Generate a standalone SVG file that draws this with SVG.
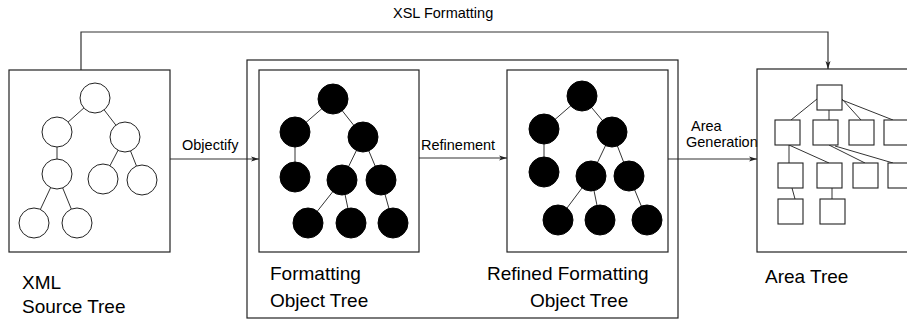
<svg xmlns="http://www.w3.org/2000/svg" width="907" height="323" viewBox="0 0 907 323">
<style>
.box{fill:none;stroke:#222;stroke-width:1.2}
.conn{fill:none;stroke:#333;stroke-width:1.2}
.edge{stroke:#333;stroke-width:1}
.oc{fill:#fff;stroke:#222;stroke-width:1}
.fc{fill:#000;stroke:#000;stroke-width:1}
.sq{fill:#fff;stroke:#222;stroke-width:1.1}
.big{font-family:"Liberation Sans",Arial,sans-serif;font-size:19px;fill:#000}
.small{font-family:"Liberation Sans",Arial,sans-serif;font-size:14.5px;fill:#000}
</style>
<defs>
<marker id="arr" viewBox="0 0 8 6" refX="8" refY="3" markerWidth="8" markerHeight="6" markerUnits="userSpaceOnUse" orient="auto">
<path d="M0,0.5 L8,3 L0,5.5 L2,3 Z" fill="#222"/>
</marker>
</defs>
<rect width="907" height="323" fill="#fff"/>

<g id="connectors">
<polyline class="conn" points="81,70 81,32 828,32 828,69" marker-end="url(#arr)"/>
<line class="conn" x1="170" y1="159" x2="259" y2="159" marker-end="url(#arr)"/>
<line class="conn" x1="419" y1="158" x2="507" y2="158" marker-end="url(#arr)"/>
<line class="conn" x1="668" y1="159" x2="757" y2="159" marker-end="url(#arr)"/>
<text class="small" x="393" y="18">XSL Formatting</text>
<text class="small" x="182" y="150">Objectify</text>
<text class="small" x="421" y="150">Refinement</text>
<text class="small" x="691" y="131">Area</text>
<text class="small" x="686" y="147">Generation</text>
</g>

<g id="source-tree">
<rect class="box" x="9" y="70" width="161" height="182"/>
<g>
<line class="edge" x1="95" y1="98" x2="57" y2="132"/>
<line class="edge" x1="95" y1="98" x2="125" y2="137"/>
<line class="edge" x1="57" y1="132" x2="57" y2="174"/>
<line class="edge" x1="125" y1="137" x2="103" y2="179"/>
<line class="edge" x1="125" y1="137" x2="142" y2="180"/>
<line class="edge" x1="57" y1="174" x2="34" y2="223"/>
<line class="edge" x1="57" y1="174" x2="77" y2="223"/>
</g>
<circle class="oc" cx="95" cy="98" r="15"/>
<circle class="oc" cx="57" cy="132" r="15"/>
<circle class="oc" cx="125" cy="137" r="15"/>
<circle class="oc" cx="57" cy="174" r="15"/>
<circle class="oc" cx="103" cy="179" r="15"/>
<circle class="oc" cx="142" cy="180" r="15"/>
<circle class="oc" cx="34" cy="223" r="15"/>
<circle class="oc" cx="77" cy="223" r="15"/>
<text class="big" x="22" y="289">XML</text>
<text class="big" x="22" y="313">Source Tree</text>
</g>

<g id="fo-group">
<rect class="box" x="247" y="60" width="431" height="258"/>
</g>

<g id="fo-tree">
<rect class="box" x="259" y="70" width="160" height="182"/>
<line class="edge" x1="333" y1="99" x2="295" y2="132"/>
<line class="edge" x1="333" y1="99" x2="363" y2="137"/>
<line class="edge" x1="295" y1="132" x2="295" y2="177"/>
<line class="edge" x1="363" y1="137" x2="342" y2="180"/>
<line class="edge" x1="363" y1="137" x2="381" y2="180"/>
<line class="edge" x1="342" y1="180" x2="308" y2="223"/>
<line class="edge" x1="342" y1="180" x2="351" y2="223"/>
<line class="edge" x1="381" y1="180" x2="393" y2="223"/>
<circle class="fc" cx="333" cy="99" r="15"/>
<circle class="fc" cx="295" cy="132" r="15"/>
<circle class="fc" cx="363" cy="137" r="15"/>
<circle class="fc" cx="295" cy="177" r="15"/>
<circle class="fc" cx="342" cy="180" r="15"/>
<circle class="fc" cx="381" cy="180" r="15"/>
<circle class="fc" cx="308" cy="223" r="15"/>
<circle class="fc" cx="351" cy="223" r="15"/>
<circle class="fc" cx="393" cy="223" r="15"/>
<text class="big" x="270" y="280">Formatting</text>
<text class="big" x="270" y="307">Object Tree</text>
</g>

<g id="refined-tree">
<rect class="box" x="507" y="70" width="161" height="182"/>
<line class="edge" x1="582" y1="96" x2="544" y2="129"/>
<line class="edge" x1="582" y1="96" x2="612" y2="132"/>
<line class="edge" x1="544" y1="129" x2="544" y2="172"/>
<line class="edge" x1="612" y1="132" x2="591" y2="176"/>
<line class="edge" x1="612" y1="132" x2="629" y2="176"/>
<line class="edge" x1="591" y1="176" x2="558" y2="220"/>
<line class="edge" x1="591" y1="176" x2="600" y2="220"/>
<line class="edge" x1="629" y1="176" x2="647" y2="220"/>
<circle class="fc" cx="582" cy="96" r="15"/>
<circle class="fc" cx="544" cy="129" r="15"/>
<circle class="fc" cx="612" cy="132" r="15"/>
<circle class="fc" cx="544" cy="172" r="15"/>
<circle class="fc" cx="591" cy="176" r="15"/>
<circle class="fc" cx="629" cy="176" r="15"/>
<circle class="fc" cx="558" cy="220" r="15"/>
<circle class="fc" cx="600" cy="220" r="15"/>
<circle class="fc" cx="647" cy="220" r="15"/>
<text class="big" x="487" y="280">Refined Formatting</text>
<text class="big" x="530" y="307">Object Tree</text>
</g>

<g id="area-tree">
<rect class="box" x="757" y="69" width="160" height="183"/>
<line class="edge" x1="817" y1="99" x2="791" y2="120"/>
<line class="edge" x1="829" y1="110" x2="829" y2="120"/>
<line class="edge" x1="842" y1="99" x2="861" y2="120"/>
<line class="edge" x1="842" y1="100" x2="893" y2="120"/>
<line class="edge" x1="789" y1="145" x2="789" y2="163"/>
<line class="edge" x1="789" y1="145" x2="829" y2="163"/>
<line class="edge" x1="829" y1="145" x2="865" y2="163"/>
<line class="edge" x1="835" y1="146" x2="893" y2="163"/>
<line class="edge" x1="792" y1="188" x2="795" y2="199"/>
<line class="edge" x1="832" y1="188" x2="832" y2="199"/>
<rect class="sq" x="817" y="85" width="25" height="25"/>
<rect class="sq" x="775" y="120" width="25" height="25"/>
<rect class="sq" x="813" y="120" width="25" height="25"/>
<rect class="sq" x="849" y="120" width="25" height="25"/>
<rect class="sq" x="884" y="120" width="25" height="25"/>
<rect class="sq" x="778" y="163" width="25" height="25"/>
<rect class="sq" x="817" y="163" width="25" height="25"/>
<rect class="sq" x="853" y="163" width="25" height="25"/>
<rect class="sq" x="888" y="163" width="25" height="25"/>
<rect class="sq" x="778" y="199" width="25" height="25"/>
<rect class="sq" x="820" y="199" width="25" height="25"/>
<text class="big" x="765" y="283">Area Tree</text>
</g>
</svg>
